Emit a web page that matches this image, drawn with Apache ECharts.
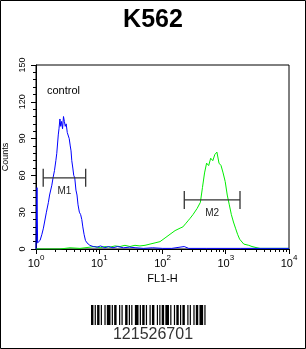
<!DOCTYPE html>
<html><head><meta charset="utf-8">
<script src="https://cdn.jsdelivr.net/npm/echarts@6/dist/echarts.min.js"></script>
<style>html,body{margin:0;padding:0;background:#fff}#c{width:306px;height:349px}</style>
</head><body><div id="c"></div>
<script>
const chartTitle = 'K562';
const xAxisName = 'FL1-H';
const yAxisName = 'Counts';
const annotation = 'control';
const barcodeText = '121526701';
const xMajorTicks = [1, 10, 100, 1000, 10000];
const xMinorTicks = [2,3,4,5,6,7,8,9,20,30,40,50,60,70,80,90,200,300,400,500,600,700,800,900,2000,3000,4000,5000,6000,7000,8000,9000];
const yMin = 0, yMax = 150, yInterval = 30;

const controlFL1 = [1.0,1.037,1.06,1.1,1.16,1.24,1.31,1.46,1.57,1.64,1.78,1.86,1.96,2.06,2.13,2.25,2.31,2.39,2.46,2.54,2.63,2.72,2.81,2.90,3.0,3.12,3.24,3.35,3.48,3.58,3.68,3.82,3.95,4.10,4.28,4.45,4.62,4.85,5.08,5.30,5.50,5.75,6.05,6.4,7.1,8.0,9.2,10.5,12.3,14,16.5,19.5,24,30,38,50,70,100,140,220,260,500,1700,10000];
const controlCounts = [0,50,5,4,7,12,17,30,38,44,52,58,64,72,78,93,98,106,100,104,98,108,104,100,102,95,96,90,84,80,72,66,60,58,48,44,36,30,28,24,18,12,7,5,3,2,1.5,2.5,1,2,1,2,1,1.5,1,0.5,1,0.5,0.5,2,0.5,0.5,0.5,0.5];

const sampleFL1 = [1,2.4,3.45,4.96,7.14,8.57,10.3,12.3,14.8,17.7,21.3,25.5,30.6,36.7,44,52.9,63.5,76.2,91.4,109.7,131.6,158,189.6,210,235,253.6,272.9,303,352,397,428,462,498,537,578,624,672,725,782,843,908,980,1056,1138,1227,1323,1426,1538,1658,1928,2314,2600,3119,3480,10000];
const sampleCounts = [0,0,1,0.5,1.5,2,1,2,1.5,2.5,2,3,2,3,2.5,3,4,5,6,9,12,15,17,18,21,23,25,28,33,38,50,62,70,68,74,72,77,79,70,68,62,55,44,36,28,22,17,12,8,4,3,2,1,0.5,0.5];

const markerNames = ['M1', 'M2'];
const markerLow = [1.30, 221];
const markerHigh = [6.1, 1680];
const markerLevel = [58, 40];

const barcodeBars = [2,1,1,1,2,1,1,2,1,1,3,1,1,1,2,2,1,1,1,2,2,1,1,1,1,2,3,1,1,1,2,1,1,2,1,1,2,2,1,1,1,1,2,1,3,1,1,2,1,1,2,1,1,1,2,2,1,1,1,2,1,1,2,1,3,1,1,2];

const FONT = '"Liberation Sans Narrow","Arial Narrow","Liberation Sans",Arial,sans-serif';
const chart = echarts.init(document.getElementById('c'), null, {renderer: 'canvas'});

const bcX0 = 91, bcX1 = 208, bcY = 305, bcH = 20;
const totalUnits = barcodeBars.reduce((a, b) => a + b, 0);
const unit = (bcX1 - bcX0) / totalUnits;
const bcRects = [];
let pos = 0;
barcodeBars.forEach((w, i) => {
  if (i % 2 === 0) {
    bcRects.push({type: 'rect', shape: {x: bcX0 + pos * unit, y: bcY, width: w * unit, height: bcH}, style: {fill: '#000'}, silent: true});
  }
  pos += w;
});

const markerData = markerNames.map((n, i) => [markerLow[i], markerHigh[i], markerLevel[i], n]);

chart.setOption({
  animation: false,
  backgroundColor: '#fff',
  title: {text: chartTitle, left: 'center', top: 3, textStyle: {fontFamily: 'Liberation Sans, Arial, sans-serif', fontWeight: 'bold', fontSize: 25, color: '#000'}},
  grid: {left: 36, right: 17, top: 65, bottom: 100, containLabel: false, outerBoundsMode: 'none', show: true, borderColor: '#000', borderWidth: 1, backgroundColor: 'transparent'},
  xAxis: [{
    type: 'log', logBase: 10, min: 1, max: 10000,
    name: xAxisName, nameLocation: 'middle', nameGap: 21,
    nameTextStyle: {fontFamily: FONT, fontSize: 11, color: '#000'},
    axisLine: {show: true, lineStyle: {color: '#000', width: 1}},
    axisTick: {show: true, length: 5, lineStyle: {color: '#000'}},
    minorTick: {show: false},
    splitLine: {show: false},
    axisLabel: {
      margin: 5,
      formatter: v => '{b|10}{s|' + Math.round(Math.log10(v)) + '}',
      rich: {
        b: {fontFamily: FONT, fontSize: 11, lineHeight: 15, verticalAlign: 'bottom', color: '#000'},
        s: {fontFamily: FONT, fontSize: 8, lineHeight: 8, verticalAlign: 'top', color: '#000'}
      }
    }
  }, {
    type: 'log', logBase: 10, min: 1, max: 10000, position: 'bottom',
    axisLine: {show: false},
    axisTick: {show: true, length: 3, customValues: xMinorTicks, lineStyle: {color: '#000'}},
    axisLabel: {show: false},
    splitLine: {show: false}
  }],
  yAxis: {
    type: 'value', min: yMin, max: yMax, interval: yInterval,
    name: yAxisName, nameLocation: 'middle', nameGap: 19, nameRotate: 90,
    nameTextStyle: {fontFamily: FONT, fontSize: 9, color: '#000'},
    axisLine: {show: true, lineStyle: {color: '#000', width: 1}},
    axisTick: {show: true, length: 5, lineStyle: {color: '#000'}},
    minorTick: {show: true, splitNumber: 5, length: 3, lineStyle: {color: '#000'}},
    splitLine: {show: false},
    axisLabel: {rotate: 90, margin: 9, fontFamily: FONT, fontSize: 9, color: '#000'}
  },
  graphic: [
    {type: 'rect', shape: {x: 0.5, y: 0.5, width: 305, height: 348}, style: {fill: 'none', stroke: '#000', lineWidth: 1}, silent: true, z: 100},
    {type: 'text', left: 47, top: 85, style: {text: annotation, font: '11px ' + FONT, fill: '#000'}},
    {type: 'text', left: 'center', top: 327, style: {text: barcodeText, font: '16px "Liberation Sans", Arial, sans-serif', fill: '#333'}},
    {type: 'group', children: bcRects}
  ],
  series: [
    {type: 'line', name: 'sample', data: sampleFL1.map((x, i) => [x, sampleCounts[i]]), showSymbol: false, symbol: 'none', lineStyle: {color: '#00ee00', width: 1}, z: 2},
    {type: 'line', name: 'control', data: controlFL1.map((x, i) => [x, controlCounts[i]]), showSymbol: false, symbol: 'none', lineStyle: {color: '#0000ff', width: 1}, z: 3},
    {
      type: 'custom', name: 'markers', data: markerData, z: 4,
      encode: {x: [0, 1], y: 2},
      renderItem: (params, api) => {
        const lo = api.value(0), hi = api.value(1), lv = api.value(2);
        const p1 = api.coord([lo, lv]);
        const p2 = api.coord([hi, lv]);
        const pm = api.coord([Math.sqrt(lo * hi), lv]);
        const cap = 9;
        const st = {stroke: '#333', lineWidth: 1.3};
        return {type: 'group', children: [
          {type: 'line', shape: {x1: p1[0], y1: p1[1], x2: p2[0], y2: p2[1]}, style: st},
          {type: 'line', shape: {x1: p1[0], y1: p1[1] - cap, x2: p1[0], y2: p1[1] + cap}, style: st},
          {type: 'line', shape: {x1: p2[0], y1: p2[1] - cap, x2: p2[0], y2: p2[1] + cap}, style: st},
          {type: 'text', x: pm[0], y: pm[1] + 13, style: {text: markerNames[params.dataIndex], font: '10px ' + FONT, fill: '#222', align: 'center', verticalAlign: 'middle'}}
        ]};
      }
    }
  ]
});
</script></body></html>
